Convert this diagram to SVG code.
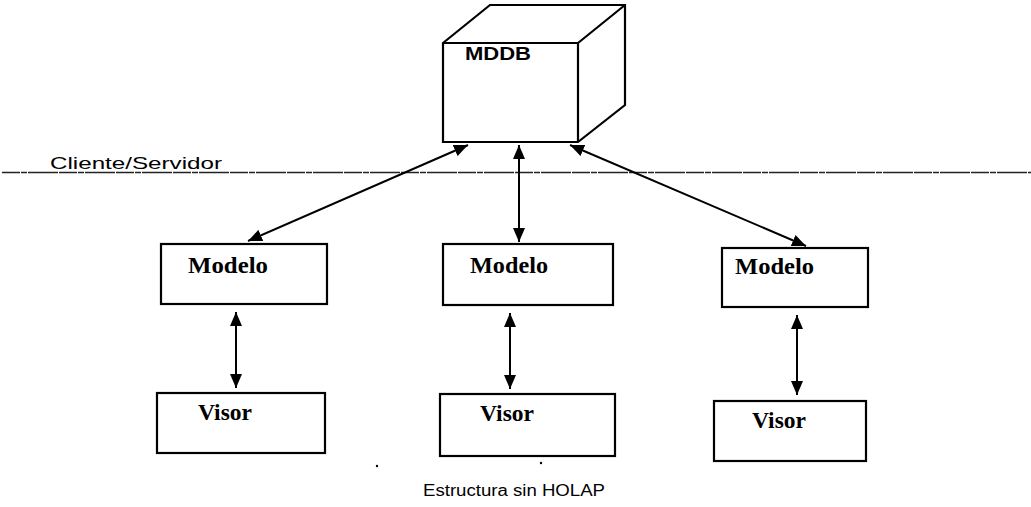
<svg xmlns="http://www.w3.org/2000/svg" width="1031" height="507" viewBox="0 0 1031 507">
  <style>
    .box { fill: #fff; stroke: #000; stroke-width: 2.2; }
    .edge { fill: none; stroke: #000; stroke-width: 2.2; stroke-linejoin: miter; }
    .conn { stroke: #000; stroke-width: 2; fill: none; }
    .lbl { font-family: "Liberation Serif", "Times New Roman", serif; font-weight: bold; font-size: 23px; fill: #000; }
    .sans { font-family: "Liberation Sans", Arial, sans-serif; fill: #000; }
  </style>
  <defs>
    <marker id="ah" viewBox="0 0 14 12" refX="14" refY="6" markerWidth="14" markerHeight="12" markerUnits="userSpaceOnUse" orient="auto-start-reverse">
      <path d="M0,0 L14,6 L0,12 Z" fill="#000"/>
    </marker>
  </defs>

  <rect width="1031" height="507" fill="#fff"/>

  <!-- client/server boundary -->
  <g id="boundary">
    <line x1="2" y1="172.5" x2="1031" y2="172.5" stroke="#222" stroke-width="1.4" stroke-dasharray="18 1 6 1 30 1"/>
    <text class="sans" x="50" y="169" font-size="17" textLength="172" lengthAdjust="spacingAndGlyphs">Cliente/Servidor</text>
  </g>

  <!-- multidimensional database cube -->
  <g id="mddb">
    <path class="box" d="M443,43 L490,5 L625,5 L625,105 L578,142 L443,142 Z"/>
    <path class="edge" d="M443,43 L578,43 L578,142 M578,43 L625,5"/>
    <text class="sans" x="465" y="60" font-size="18" font-weight="bold" textLength="66" lengthAdjust="spacingAndGlyphs">MDDB</text>
  </g>

  <g id="modelo1">
    <rect class="box" x="161" y="244" width="166" height="60"/>
    <text class="lbl" x="188" y="273" textLength="80" lengthAdjust="spacingAndGlyphs">Modelo</text>
  </g>
  <g id="modelo2">
    <rect class="box" x="443" y="244" width="170" height="61"/>
    <text class="lbl" x="470" y="273" textLength="78" lengthAdjust="spacingAndGlyphs">Modelo</text>
  </g>
  <g id="modelo3">
    <rect class="box" x="722" y="248" width="146" height="59"/>
    <text class="lbl" x="735" y="274" textLength="79" lengthAdjust="spacingAndGlyphs">Modelo</text>
  </g>

  <g id="visor1">
    <rect class="box" x="157" y="393" width="168" height="60"/>
    <text class="lbl" x="198" y="420" textLength="54" lengthAdjust="spacingAndGlyphs">Visor</text>
  </g>
  <g id="visor2">
    <rect class="box" x="440" y="394" width="175" height="62"/>
    <text class="lbl" x="480" y="421" textLength="54" lengthAdjust="spacingAndGlyphs">Visor</text>
  </g>
  <g id="visor3">
    <rect class="box" x="714" y="401" width="152" height="60"/>
    <text class="lbl" x="752" y="428" textLength="54" lengthAdjust="spacingAndGlyphs">Visor</text>
  </g>

  <!-- connectors -->
  <g id="connectors">
    <line class="conn" x1="468" y1="145" x2="248" y2="241" marker-start="url(#ah)" marker-end="url(#ah)"/>
    <line class="conn" x1="519" y1="145" x2="519" y2="242" marker-start="url(#ah)" marker-end="url(#ah)"/>
    <line class="conn" x1="570" y1="145" x2="806" y2="246" marker-start="url(#ah)" marker-end="url(#ah)"/>
    <line class="conn" x1="236" y1="312" x2="236" y2="388" marker-start="url(#ah)" marker-end="url(#ah)"/>
    <line class="conn" x1="510" y1="313" x2="510" y2="389" marker-start="url(#ah)" marker-end="url(#ah)"/>
    <line class="conn" x1="797" y1="315" x2="797" y2="395" marker-start="url(#ah)" marker-end="url(#ah)"/>
  </g>

  <!-- stray specks printed near the caption -->
  <circle cx="377" cy="466" r="1.2" fill="#000"/>
  <circle cx="541" cy="463" r="1.2" fill="#000"/>

  <g id="caption">
    <text class="sans" x="423" y="496" font-size="16" textLength="182" lengthAdjust="spacingAndGlyphs">Estructura sin HOLAP</text>
  </g>
</svg>
